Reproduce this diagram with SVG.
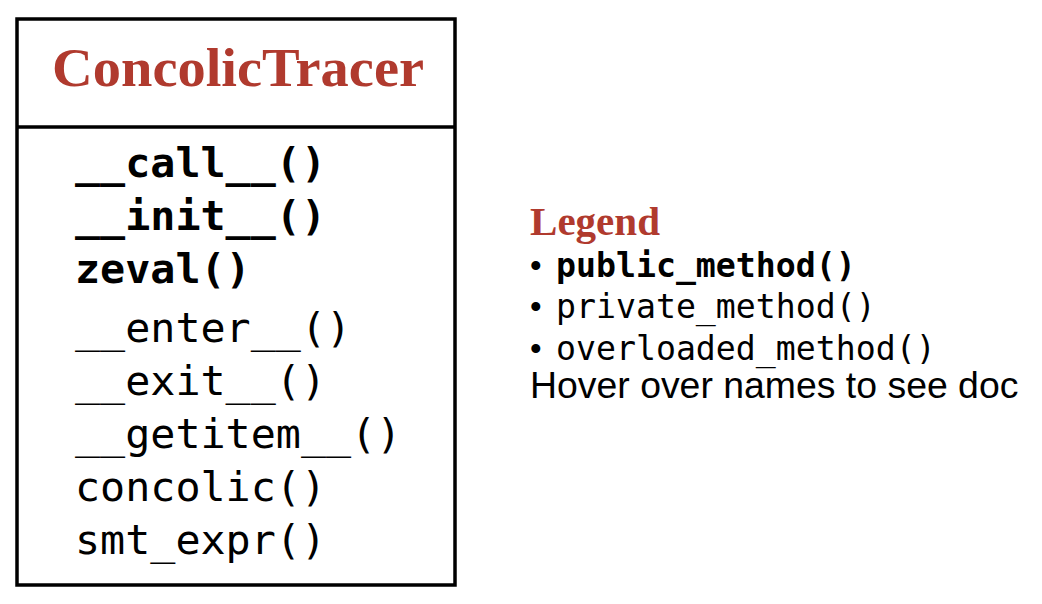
<svg xmlns="http://www.w3.org/2000/svg" width="1042" height="604" viewBox="0 0 1042 604">
<style>
.title{font-family:"Liberation Serif","DejaVu Serif",serif;font-weight:bold;fill:#b03a2e}
.m{font-family:"DejaVu Sans Mono","Liberation Mono",monospace;font-size:41.7px;fill:#000}
.pub{font-weight:bold}
.lm{font-family:"DejaVu Sans Mono","Liberation Mono",monospace;font-size:33.2px;fill:#000}
.sans{font-family:"Liberation Sans","Helvetica",Arial,sans-serif;fill:#000}
</style>
<rect width="1042" height="604" fill="#fff"/>
<g id="ConcolicTracer">
<rect x="17" y="19" width="438" height="566" fill="#fff" stroke="#000" stroke-width="3.5"/>
<line x1="17" y1="127" x2="455" y2="127" stroke="#000" stroke-width="3.5"/>
<text class="title" x="52" y="86" font-size="54" textLength="372" lengthAdjust="spacingAndGlyphs">ConcolicTracer</text>
<text class="m pub" x="75" y="177">__call__()</text>
<text class="m pub" x="75" y="230">__init__()</text>
<text class="m pub" x="75" y="283">zeval()</text>
<text class="m" x="75" y="342">__enter__()</text>
<text class="m" x="75" y="395">__exit__()</text>
<text class="m" x="75" y="448">__getitem__()</text>
<text class="m" x="75" y="501">concolic()</text>
<text class="m" x="75" y="554">smt_expr()</text>
</g>
<g id="legend">
<text class="title" x="530" y="235" font-size="40" textLength="130" lengthAdjust="spacingAndGlyphs">Legend</text>
<text class="sans" x="530" y="277" font-size="33">•</text>
<text class="lm pub" x="556" y="277">public_method()</text>
<text class="sans" x="530" y="318" font-size="33">•</text>
<text class="lm" x="556" y="318">private_method()</text>
<text class="sans" x="530" y="360" font-size="33">•</text>
<text class="lm" x="556" y="360">overloaded_method()</text>
<text class="sans" x="530" y="398" font-size="37.4">Hover over names to see doc</text>
</g>
<g id="connectors"></g>
</svg>
